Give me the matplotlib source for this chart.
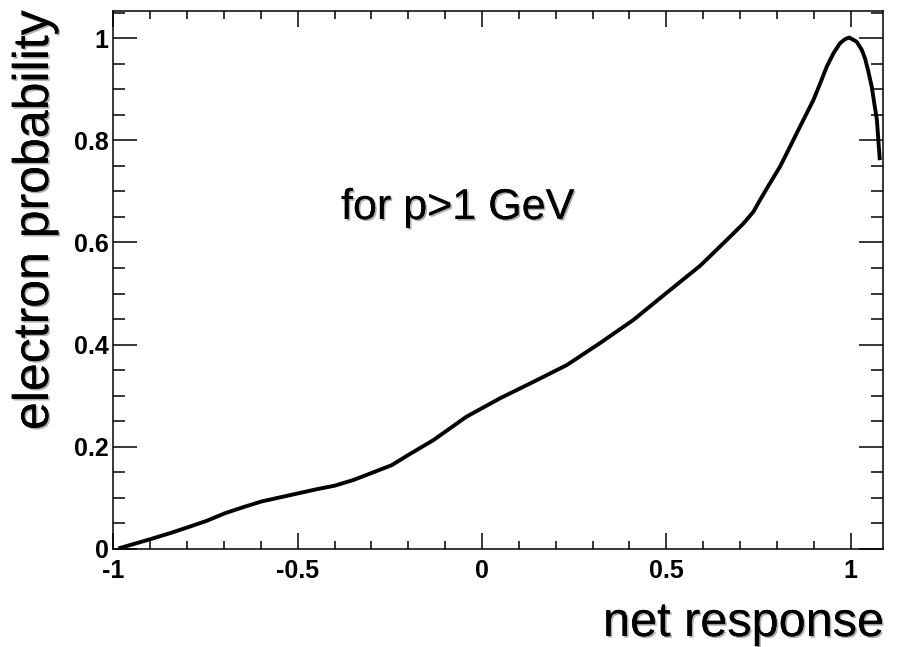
import matplotlib
matplotlib.use("Agg")
import matplotlib.pyplot as plt
import matplotlib.patheffects as pe
from matplotlib.ticker import MultipleLocator, FuncFormatter

plt.rcParams["font.family"] = ["Liberation Sans", "DejaVu Sans"]

# curve
net_response = [-0.986, -0.896, -0.846, -0.80, -0.747, -0.697, -0.647, -0.598, -0.548, -0.498,
                 -0.448, -0.399, -0.349, -0.295, -0.245, -0.20, -0.132, -0.042, 0.049, 0.139,
                 0.230, 0.320, 0.410, 0.483, 0.555, 0.591, 0.627, 0.664, 0.709, 0.736,
                 0.754, 0.781, 0.808, 0.831, 0.853, 0.876, 0.899, 0.917, 0.935, 0.953,
                 0.971, 0.985, 0.996, 1.016, 1.030, 1.039, 1.048, 1.057, 1.064, 1.071,
                 1.075, 1.079]
electron_prob = [0.001, 0.020, 0.031, 0.042, 0.055, 0.070, 0.082, 0.093, 0.101, 0.109,
                 0.117, 0.124, 0.135, 0.150, 0.164, 0.184, 0.213, 0.259, 0.295, 0.327,
                 0.360, 0.403, 0.448, 0.491, 0.533, 0.554, 0.579, 0.605, 0.637, 0.660,
                 0.683, 0.716, 0.748, 0.781, 0.813, 0.846, 0.879, 0.911, 0.944, 0.970,
                 0.990, 0.998, 1.001, 0.993, 0.977, 0.960, 0.934, 0.905, 0.872, 0.840,
                 0.800, 0.761]

shadow = [pe.withSimplePatchShadow(offset=(1.2, -1.2), shadow_rgbFace="0.55", alpha=0.7), pe.Normal()]

fig = plt.figure(figsize=(8.98, 6.47), dpi=100)
ax = fig.add_axes([0.1262, 0.1515, 0.8571, 0.8315])

ax.plot(net_response, electron_prob, color="black", lw=2.8, solid_capstyle="butt",
        solid_joinstyle="round")

ax.set_xlim(-1, 1.0876)
ax.set_ylim(0, 1.053)

ax.xaxis.set_major_locator(MultipleLocator(0.5))
ax.xaxis.set_minor_locator(MultipleLocator(0.1))
ax.yaxis.set_major_locator(MultipleLocator(0.2))
ax.yaxis.set_minor_locator(MultipleLocator(0.05))
fmt = FuncFormatter(lambda v, p: "%g" % round(v, 3))
ax.xaxis.set_major_formatter(fmt)
ax.yaxis.set_major_formatter(fmt)

ax.tick_params(which="both", direction="in", top=True, right=True, width=1.1, colors="black")
ax.tick_params(axis="x", which="major", length=11.5, pad=7.5)
ax.tick_params(axis="x", which="minor", length=5.8)
ax.tick_params(axis="y", which="major", length=17, pad=3.5)
ax.tick_params(axis="y", which="minor", length=8.6)
for lab in ax.get_xticklabels() + ax.get_yticklabels():
    lab.set_fontsize(18)
    lab.set_fontweight("bold")
for s in ax.spines.values():
    s.set_linewidth(1.1)

fig.text(48 / 898, 1 - 10 / 647, "electron probability", fontsize=36, rotation=90,
         rotation_mode="anchor", ha="right", va="baseline", path_effects=shadow)
fig.text(884 / 898, 1 - 636 / 647, "net response", fontsize=35,
         ha="right", va="baseline", path_effects=shadow)
fig.text(341 / 898, 1 - 219 / 647, "for p>1 GeV", fontsize=31,
         ha="left", va="baseline", path_effects=shadow)

fig.savefig("out.png", dpi=100)
